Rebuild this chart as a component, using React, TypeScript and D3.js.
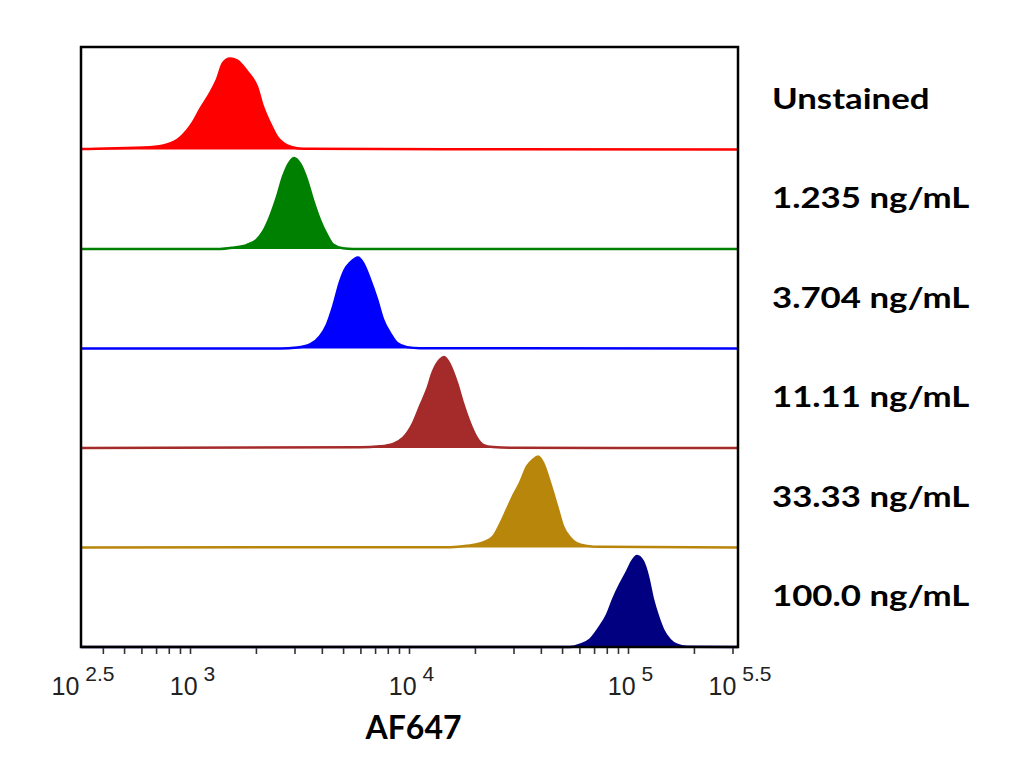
import React from "react";
import * as d3 from "d3";

// ---- Data (fluorescence intensity, relative count in % of mode) ----
const sampleLabels = [
  "Unstained",
  "1.235 ng/mL",
  "3.704 ng/mL",
  "11.11 ng/mL",
  "33.33 ng/mL",
  "100.0 ng/mL",
];

const unstained: [number, number][] = [
  [320, 0.5], [653, 2.5], [781, 5.5], [896, 13], [1026, 30], [1105, 44], [1228, 62],
  [1321, 77], [1407, 95], [1515, 100], [1631, 98], [1811, 86], [2012, 69], [2143, 47],
  [2307, 29], [2484, 14], [2759, 4.5], [3064, 1.5], [3515, 0.7],
];
const conc1235: [number, number][] = [
  [1364, 0], [1563, 1.5], [1811, 4.5], [2012, 10.5], [2143, 19], [2307, 35.5], [2484, 57.5],
  [2644, 79.5], [2846, 96], [2970, 100], [3162, 94], [3404, 76], [3625, 54], [3902, 32],
  [4200, 15.5], [4477, 5], [4966, 0.8], [5521, 0],
];
const conc3704: [number, number][] = [
  [2564, 0], [3064, 1], [3515, 4.5], [3902, 13.5], [4200, 26.5], [4477, 46], [4819, 73.5],
  [5075, 87], [5350, 94], [5821, 100], [6137, 94], [6607, 76], [7112, 54], [7573, 32],
  [8150, 17], [8772, 6], [9742, 1.5], [11168, 0.3],
];
const conc1111: [number, number][] = [
  [5943, 0.7], [7334, 1.8], [8410, 4.5], [9340, 11], [10380, 27.5], [11168, 46], [12016, 64],
  [12798, 84], [13772, 97], [14380, 100], [15310, 91.5], [16480, 71.5], [17540, 49.5],
  [18880, 27.5], [20320, 11], [21660, 3.5], [24060, 1], [28760, 0.3],
];
const conc3333: [number, number][] = [
  [15310, 0.3], [18310, 1.8], [20980, 4.5], [24060, 12], [25890, 25.5], [27870, 42],
  [29700, 56.5], [31960, 71], [34400, 89], [36640, 96.5], [38640, 100], [40740, 93],
  [43850, 71], [47200, 45.5], [50230, 23.5], [54080, 11], [58210, 4.5], [64710, 1.8], [74130, 0.7],
];
const conc100: [number, number][] = [
  [54080, 0], [60110, 2.5], [66680, 8], [74130, 22.5], [79800, 35.5], [84920, 52],
  [91410, 68.5], [98400, 83], [103750, 94], [109380, 100], [116410, 94], [122740, 77.5],
  [129420, 52], [136460, 33.5], [143880, 19], [154530, 8], [166340, 2.5], [184930, 0.3],
];

const seriesData = [unstained, conc1235, conc3704, conc1111, conc3333, conc100];
const seriesColors = ["#ff0000", "#008000", "#0000ff", "#a52a2a", "#b8860b", "#000080"];

const axisDomain: [number, number] = [Math.pow(10, 2.5), Math.pow(10, 5.5)];
const majorExponents = ["2.5", "3", "4", "5", "5.5"];
const axisTitle = "AF647";

// ---- Layout ----
const W = 1024;
const H = 773;
const left = 81;
const right = 738;
const top = 47;
const bottom = 647;
const rowStep = 99.5;
const peakPx = 91;

export default function App() {
  const x = d3.scaleLog().domain(axisDomain).range([left, right]);

  const minorTicks: number[] = [];
  for (let e = 2; e <= 5; e++) {
    for (let m = 1; m <= 9; m++) {
      const v = m * Math.pow(10, e);
      if (v > axisDomain[0] && v < axisDomain[1]) minorTicks.push(v);
    }
  }

  const n = seriesData.length;

  return (
    <div style={{ position: "fixed", left: 0, top: 0 }}>
      <svg width={W} height={H} style={{ display: "block", background: "#fff" }}>
        <rect x={0} y={0} width={W} height={H} fill="#fff" />
        {seriesData.map((data, i) => {
          const base = bottom - (n - 1 - i) * rowStep;
          const y = d3.scaleLinear().domain([0, 100]).range([base, base - peakPx]);
          const full: [number, number][] = [[axisDomain[0], 0], ...data, [axisDomain[1], 0]];
          const area = d3
            .area<[number, number]>()
            .x((d) => x(d[0]))
            .y0(base)
            .y1((d) => y(d[1]))
            .curve(d3.curveMonotoneX);
          const line = d3
            .line<[number, number]>()
            .x((d) => x(d[0]))
            .y((d) => y(d[1]))
            .curve(d3.curveMonotoneX);
          return (
            <g key={i}>
              <path d={area(full) || ""} fill={seriesColors[i]} />
              <path d={line(full) || ""} fill="none" stroke={seriesColors[i]} strokeWidth={2.5} />
            </g>
          );
        })}
        {/* frame */}
        <rect
          x={left}
          y={top}
          width={right - left}
          height={bottom - top}
          fill="none"
          stroke="#000"
          strokeWidth={2.5}
        />
        {/* ticks */}
        {minorTicks.map((v, i) => (
          <line key={i} x1={x(v)} x2={x(v)} y1={bottom + 1} y2={bottom + 7} stroke="#333" strokeWidth={1.6} />
        ))}
        {/* tick labels */}
        {majorExponents.map((e) => (
          <text
            key={e}
            x={x(Math.pow(10, parseFloat(e))) + 2}
            y={695}
            textAnchor="middle"
            fontFamily="'Liberation Sans', Arial, sans-serif"
            fontSize={25}
            fill="#222"
          >
            <tspan>10</tspan>
            <tspan dx={6} dy={-14} fontSize={21}>
              {e}
            </tspan>
          </text>
        ))}
        <text
          x={(left + right) / 2 + 4}
          y={739}
          textAnchor="middle"
          fontFamily="Lato, 'Open Sans', sans-serif"
          fontWeight="bold"
          fontSize={32}
          fill="#000"
        >
          {axisTitle}
        </text>
        {/* sample labels */}
        {sampleLabels.map((t, i) => {
          const base = bottom - (n - 1 - i) * rowStep;
          return (
            <text
              key={t}
              transform={`translate(772, ${base - rowStep / 2 + 9}) scale(1.2, 1)`}
              fontFamily="Lato, 'Open Sans', sans-serif"
              fontWeight="bold"
              fontSize={29}
              fill="#000"
            >
              {t}
            </text>
          );
        })}
      </svg>
    </div>
  );
}
